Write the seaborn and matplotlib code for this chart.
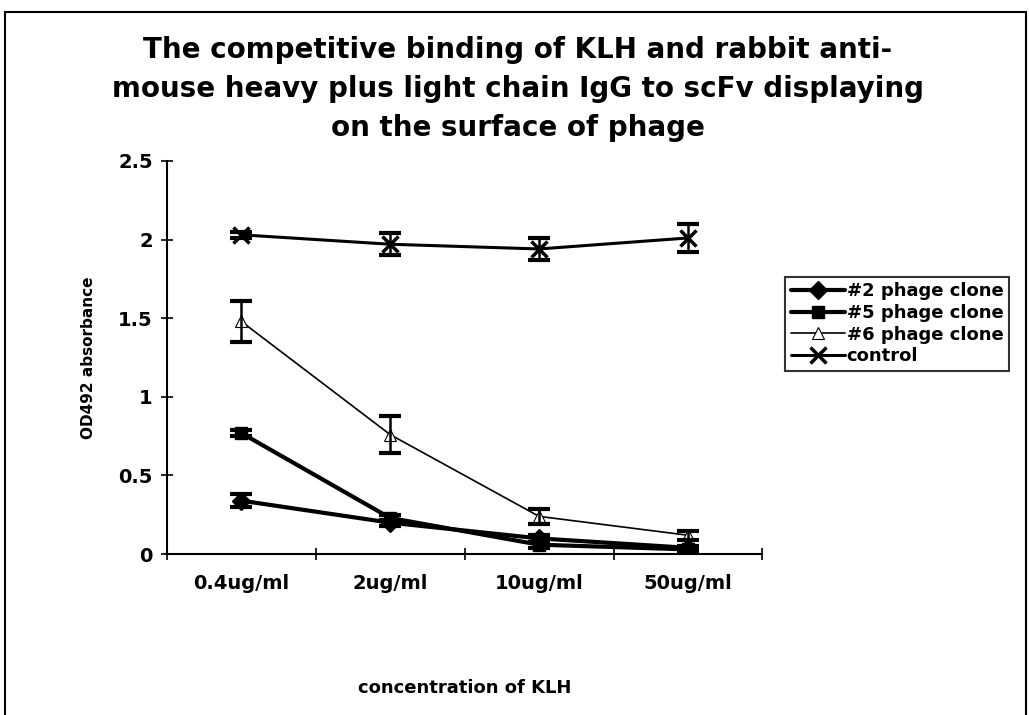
import matplotlib.pyplot as plt
import numpy as np
import pandas as pd
import seaborn as sns
from matplotlib.patches import Rectangle
from matplotlib.ticker import MultipleLocator

concentrations = ["0.4ug/ml", "2ug/ml", "10ug/ml", "50ug/ml"]

clone2 = [0.34, 0.20, 0.10, 0.04]
clone2_err = [0.04, 0.02, 0.02, 0.01]
clone5 = [0.77, 0.23, 0.06, 0.03]
clone5_err = [0.02, 0.02, 0.02, 0.01]
clone6 = [1.48, 0.76, 0.24, 0.12]
clone6_err = [0.13, 0.115, 0.05, 0.03]
control = [2.03, 1.97, 1.94, 2.01]
control_err = [0.02, 0.07, 0.07, 0.09]

series_names = ["#2 phage clone", "#5 phage clone", "#6 phage clone", "control"]
series_vals = [clone2, clone5, clone6, control]
series_errs = [clone2_err, clone5_err, clone6_err, control_err]

sns.set_style("ticks", rc={"text.color": "black", "axes.labelcolor": "black",
                           "xtick.color": "black", "ytick.color": "black",
                           "axes.edgecolor": "black"})
plt.rcParams["font.family"] = ["DejaVu Sans"]

fig = plt.figure(figsize=(10.29, 7.15), dpi=100)
ax = fig.add_axes([0.162, 0.225, 0.579, 0.55])

styles = {
    "#2 phage clone": dict(marker="D", lw=3.0, ms=9, mfc="black", mew=1),
    "#5 phage clone": dict(marker="s", lw=3.0, ms=9, mfc="black", mew=1),
    "#6 phage clone": dict(marker="^", lw=1.2, ms=9, mfc="white", mew=0.8),
    "control": dict(marker="x", lw=2.2, ms=11, mfc="black", mew=2.5),
}

xpos = np.arange(len(concentrations))
for name, vals, errs in zip(series_names, series_vals, series_errs):
    df = pd.DataFrame({"conc": concentrations, "od": vals})
    st = styles[name]
    sns.lineplot(data=df, x="conc", y="od", ax=ax, color="black",
                 marker=st["marker"], linewidth=st["lw"], markersize=st["ms"],
                 markerfacecolor=st["mfc"], markeredgecolor="black",
                 markeredgewidth=st["mew"], label=name, sort=False, zorder=3)
    ax.errorbar(xpos, vals, yerr=errs, fmt="none", ecolor="black",
                elinewidth=1.8, capsize=8, capthick=3, zorder=4)

ax.set_xlim(-0.5, len(concentrations) - 0.5)
ax.set_ylim(0, 2.5)
ax.yaxis.set_major_locator(MultipleLocator(0.5))
ax.set_yticks([0, 0.5, 1, 1.5, 2, 2.5])
ax.set_yticklabels(["0", "0.5", "1", "1.5", "2", "2.5"])
ax.set_xticks(xpos)
ax.set_xticks(np.arange(-0.5, len(concentrations)), minor=True)
ax.tick_params(axis="x", which="major", length=0, pad=14, labelsize=14)
ax.tick_params(axis="x", which="minor", length=8, direction="inout", width=1.2)
ax.tick_params(axis="y", length=8, direction="inout", width=1.2, labelsize=14, pad=6)
for lbl in ax.get_xticklabels() + ax.get_yticklabels():
    lbl.set_fontweight("bold")
sns.despine(ax=ax)
ax.spines["left"].set_linewidth(1.5)
ax.spines["bottom"].set_linewidth(1.5)

ax.set_xlabel("concentration of KLH", fontsize=13, fontweight="bold", labelpad=62)
ax.set_ylabel("OD492 absorbance", fontsize=11, fontweight="bold", labelpad=16)

fig.text(0.503, 0.95, "The competitive binding of KLH and rabbit anti-\n"
         "mouse heavy plus light chain IgG to scFv displaying\n"
         "on the surface of phage", ha="center", va="top", fontsize=20,
         fontweight="bold", linespacing=1.5)

leg = ax.legend(loc="upper left", bbox_to_anchor=(1.038, 0.705), frameon=True,
                fancybox=False, edgecolor="black", fontsize=13,
                handlelength=3.0, handletextpad=0.1, borderpad=0.3,
                labelspacing=0.2, borderaxespad=0)
leg.get_frame().set_linewidth(1.5)
for t in leg.get_texts():
    t.set_fontweight("bold")

fig.patches.append(Rectangle((0.005, -0.01), 0.992, 0.993, transform=fig.transFigure,
                             fill=False, edgecolor="black", linewidth=1.5))

fig.savefig("out.png", dpi=100)
